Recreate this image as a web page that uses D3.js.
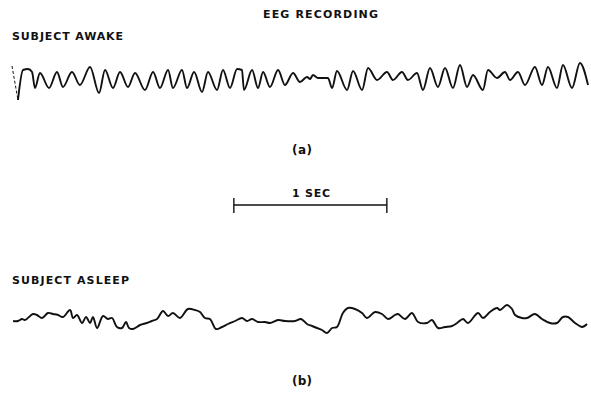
<!DOCTYPE html>
<html>
<head>
<meta charset="utf-8">
<script src="https://cdn.jsdelivr.net/npm/d3@7"></script>
<style>
  body { margin: 0; background: #fff; }
  text { font-family: "DejaVu Sans", "Liberation Sans", sans-serif; font-weight: bold; fill: #111; }
</style>
</head>
<body>
<div id="chart"></div>
<script>
const width = 591;
const height = 393;

// awake trace: turning points, time (ms) and amplitude (uV)
const awakeT = [0, 39, 72, 105, 131, 150, 183, 242, 294, 333, 392, 444, 510, 569, 608, 660, 706, 758, 804, 869,
  922, 967, 1020, 1052, 1111, 1144, 1190, 1242, 1281, 1340, 1379, 1425, 1471, 1503, 1516, 1569, 1608, 1641, 1686, 1739,
  1784, 1837, 1882, 1928, 1948, 1967, 2000, 2065, 2092, 2124, 2190, 2229, 2288, 2327, 2386, 2451, 2490, 2549, 2588, 2647,
  2686, 2732, 2784, 2830, 2882, 2928, 2974, 3013, 3078, 3111, 3170, 3222, 3255, 3307, 3353, 3418, 3464, 3503, 3562, 3601,
  3660, 3712, 3765];
const awakeV = [56, -80, 40, 44, 32, -32, 28, -32, 32, -28, 32, -20, 52, -52, 40, -32, 32, -28, 28, -40,
  32, -32, 40, -32, 40, -32, 32, -48, 32, -40, 40, -32, 44, 40, -40, 40, -32, 32, -28, 40,
  -20, 28, -8, 12, 4, 20, 8, 8, -32, 36, -40, 36, -40, 48, 0, 32, 0, 32, 0, 28,
  -40, 48, -28, 48, -32, 60, -28, 20, -40, 40, 8, 32, 0, 32, -20, 52, -20, 52, -32, 60,
  -32, 68, -20];

// asleep trace
const asleepT = [7, 39, 65, 85, 137, 163, 196, 235, 268, 301, 333, 379, 399, 425, 458, 484, 510, 529, 556, 595,
  627, 654, 686, 719, 745, 765, 791, 837, 882, 915, 948, 987, 1020, 1052, 1098, 1150, 1196, 1229, 1261, 1294,
  1333, 1373, 1412, 1458, 1503, 1536, 1569, 1608, 1654, 1686, 1739, 1784, 1850, 1889, 1928, 1961, 1993, 2026, 2059, 2092,
  2124, 2163, 2196, 2242, 2288, 2320, 2373, 2418, 2458, 2503, 2523, 2569, 2614, 2654, 2712, 2745, 2784, 2830, 2876, 2909,
  2948, 2980, 3046, 3078, 3124, 3170, 3190, 3235, 3268, 3288, 3333, 3366, 3418, 3464, 3516, 3562, 3601, 3634, 3680, 3726,
  3758];
const asleepV = [-4, -4, 4, 0, 24, 20, 8, 28, 24, 20, 12, 40, 8, 20, -12, 12, -12, 12, -32, 16,
  4, 8, -28, -32, -8, -32, -36, -20, -12, -4, 4, 36, 16, 28, 8, 44, 40, 32, 8, 4,
  -36, -28, -16, -4, 8, -4, 4, -8, -8, -12, 0, -4, -4, 4, -16, -24, -32, -40, -52, -32,
  -28, 28, 48, 44, 28, 8, 32, 24, 4, 20, 24, 4, 28, -8, -12, 0, -32, -28, -24, -12,
  4, -12, 28, 8, 32, 48, 40, 60, 44, 20, 8, 8, 24, 4, -12, -12, 12, 12, -12, -28,
  -16];

const scaleBar = [1450, 2450]; // 1 second

const svg = d3.select("#chart")
    .append("svg")
        .attr("width", width)
        .attr("height", height);

const xScale = d3.scaleLinear()
    .domain([0, 3800])
    .range([12, 12 + 3800 * 0.153]);

const yAwake = d3.scaleLinear().domain([-80, 80]).range([100, 60]);
const yAsleep = d3.scaleLinear().domain([-80, 80]).range([340, 300]);

function drawTrace(pts, yScale, curve, dashed) {
    const line = d3.line()
        .x(d => xScale(d[0]))
        .y(d => yScale(d[1]))
        .curve(curve);
    svg.append("path")
        .datum(pts)
        .attr("d", line)
        .attr("fill", "none")
        .attr("stroke", "#111")
        .attr("stroke-width", dashed ? 1 : 1.9)
        .attr("stroke-dasharray", dashed ? "3,2" : null)
        .attr("stroke-linejoin", "round");
}

const awake = d3.zip(awakeT, awakeV);
// pen's fast first stroke comes out faint
drawTrace(awake.slice(0, 2), yAwake, d3.curveLinear, true);
drawTrace(awake.slice(1), yAwake, d3.curveMonotoneX);
drawTrace(d3.zip(asleepT, asleepV), yAsleep, d3.curveCatmullRom.alpha(0.5));

// scale bar
const barY = 205;
svg.append("line")
    .attr("x1", xScale(scaleBar[0])).attr("x2", xScale(scaleBar[1]))
    .attr("y1", barY).attr("y2", barY)
    .attr("stroke", "#111").attr("stroke-width", 1.4);
scaleBar.forEach(t => {
    svg.append("line")
        .attr("x1", xScale(t)).attr("x2", xScale(t))
        .attr("y1", barY - 7).attr("y2", barY + 8)
        .attr("stroke", "#111").attr("stroke-width", 1.4);
});

function label(txt, x, y, len, size) {
    svg.append("text")
        .attr("x", x).attr("y", y)
        .attr("font-size", size || 11)
        .attr("textLength", len)
        .attr("lengthAdjust", "spacing")
        .text(txt);
}

label("EEG RECORDING", 263, 18, 115);
label("SUBJECT AWAKE", 12, 40, 111);
label("(a)", 292, 154, 20, 12);
label("1 SEC", 292, 197, 38);
label("SUBJECT ASLEEP", 12, 284, 117);
label("(b)", 292, 385, 20, 12);
</script>
</body>
</html>
